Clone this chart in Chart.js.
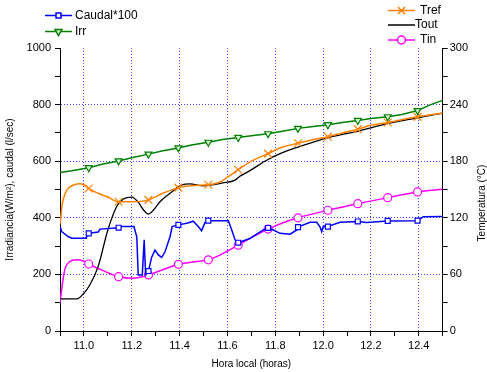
<!DOCTYPE html>
<html>
<head>
<meta charset="utf-8">
<script src="https://cdn.jsdelivr.net/npm/chart.js@4.4.0/dist/chart.umd.min.js"></script>
<style>
  body { margin: 0; background: #fff; }
  #wrap { width: 487px; height: 372px; }
</style>
</head>
<body>
<div id="wrap"><canvas id="chart" width="487" height="372"></canvas></div>
<script>
// times (hours) where the series carry a marker
const markerHours = [11.02, 11.145, 11.27, 11.395, 11.52, 11.645, 11.77, 11.895, 12.02, 12.145, 12.27, 12.395];

// Caudal*100 (left axis)
const caudalHours = [10.9, 10.907, 10.935, 10.95, 11.01, 11.015, 11.02, 11.06, 11.067, 11.145, 11.158, 11.209, 11.221, 11.227, 11.244, 11.252, 11.258, 11.27, 11.283, 11.297, 11.311, 11.325, 11.339, 11.36, 11.369, 11.395, 11.43, 11.457, 11.478, 11.492, 11.506, 11.52, 11.604, 11.618, 11.632, 11.645, 11.694, 11.75, 11.77, 11.792, 11.82, 11.862, 11.89, 11.895, 11.945, 11.973, 11.987, 11.994, 12.001, 12.02, 12.071, 12.145, 12.182, 12.27, 12.395, 12.419, 12.5];
const caudalVals = [370, 351, 333, 328, 328, 345, 345, 350, 360, 365, 369, 369, 333, 198, 198, 322, 198, 212, 260, 286, 269, 260, 280, 333, 369, 375, 381, 388, 369, 354, 383, 390, 390, 357, 322, 312, 327, 357, 364, 357, 345, 342, 357, 367, 384, 384, 368, 351, 370, 369, 384, 387, 383, 389, 390, 404, 405];

// Irr (left axis)
const irrHours = [10.9, 10.95, 11.02, 11.08, 11.145, 11.2, 11.27, 11.33, 11.395, 11.45, 11.52, 11.58, 11.645, 11.7, 11.77, 11.83, 11.895, 11.95, 12.02, 12.08, 12.145, 12.2, 12.27, 12.33, 12.395, 12.45, 12.5];
const irrVals = [560, 566, 577, 590, 601, 612, 625, 637, 647, 657, 667, 677, 684, 690, 697, 706, 716, 722, 729, 737, 744, 751, 757, 765, 779, 800, 815];

// Tref (right axis)
const trefHours = [10.9, 10.91, 10.93, 10.95, 10.98, 11.0, 11.02, 11.06, 11.1, 11.145, 11.2, 11.27, 11.33, 11.395, 11.45, 11.52, 11.57, 11.6, 11.645, 11.7, 11.77, 11.83, 11.895, 11.96, 12.02, 12.08, 12.145, 12.2, 12.27, 12.33, 12.395, 12.5];
const trefVals = [113, 135, 150, 154, 156, 155, 151, 146, 142, 137, 137, 139, 146, 152, 154, 155, 158, 163, 171, 180, 188, 195, 199, 203, 206, 210, 214, 218, 221, 224, 227, 231];

// Tout (right axis)
const toutHours = [10.9, 10.97, 11.0, 11.025, 11.059, 11.1, 11.137, 11.165, 11.2, 11.226, 11.25, 11.269, 11.29, 11.318, 11.36, 11.409, 11.443, 11.498, 11.581, 11.632, 11.652, 11.694, 11.764, 11.83, 11.896, 12.022, 12.147, 12.273, 12.395, 12.5];
const toutVals = [34, 34, 40, 49, 68, 107, 132, 140, 142, 137, 128, 124, 128, 137, 146, 155, 156, 154, 157, 160, 164, 170, 181, 189, 195, 205, 212, 220, 226, 231];

// Tin (right axis)
const tinHours = [10.9, 10.91, 10.92, 10.94, 10.97, 11.0, 11.02, 11.08, 11.145, 11.205, 11.27, 11.33, 11.395, 11.45, 11.52, 11.58, 11.645, 11.7, 11.77, 11.83, 11.895, 12.02, 12.145, 12.27, 12.395, 12.5];
const tinVals = [30, 50, 65, 73.5, 75.5, 74, 71, 64, 57.6, 56, 59.4, 65, 70.7, 73, 75.5, 82, 91, 99, 108, 114.5, 120, 128, 135, 141.3, 147.4, 150.2];

const FONT = '"Liberation Sans", Arial, sans-serif';
Chart.defaults.font.family = FONT;
Chart.defaults.font.size = 11;
Chart.defaults.color = '#000';

const gridBlue = 'rgba(40,40,255,0.9)';

function pts(xs, ys) {
    return xs.map((x, i) => ({x: x, y: ys[i]}));
}
function isMarker(x) {
    return markerHours.some(m => Math.abs(m - x) < 1e-6);
}
function markerRadius(r) {
    return ctx => (ctx.raw && isMarker(ctx.raw.x)) ? r : 0;
}

const legendItems = [
    {label: 'Caudal*100', color: '#0000ff', fill: '#fff', style: 'rect', r: 3.5, x1: 45, x2: 72, y: 15.5, tx: 75},
    {label: 'Irr', color: '#008000', fill: '#d8f0d8', style: 'triangle', rot: 180, r: 4, x1: 45, x2: 72, y: 31.5, tx: 75},
    {label: 'Tref', color: '#ff8000', fill: '#ff8000', style: 'crossRot', r: 5, x1: 388, x2: 415, y: 10.5, tx: 420},
    {label: 'Tout', color: '#000', x1: 388, x2: 415, y: 25, tx: 415},
    {label: 'Tin', color: '#ff00ff', fill: '#fff', style: 'circle', r: 4, x1: 388, x2: 415, y: 40, tx: 420}
];

const extras = {
    id: 'extras',
    afterDraw(chart) {
        const ctx = chart.ctx;
        ctx.save();
        ctx.font = '12px ' + FONT;
        ctx.textBaseline = 'middle';
        ctx.textAlign = 'left';
        legendItems.forEach(item => {
            ctx.strokeStyle = item.color;
            ctx.lineWidth = 1.5;
            ctx.beginPath();
            ctx.moveTo(item.x1, item.y);
            ctx.lineTo(item.x2, item.y);
            ctx.stroke();
            if (item.style) {
                ctx.fillStyle = item.fill;
                Chart.helpers.drawPoint(ctx, {pointStyle: item.style, radius: item.r, rotation: item.rot || 0, borderWidth: 1.2}, (item.x1 + item.x2) / 2, item.y);
            }
            ctx.fillStyle = '#000';
            ctx.fillText(item.label, item.tx, item.y);
        });
        // right axis title reads bottom to top
        ctx.translate(482, 203);
        ctx.rotate(-Math.PI / 2);
        ctx.font = '10px ' + FONT;
        ctx.textAlign = 'center';
        ctx.fillText('Temperatura (°C)', 0, 0);
        ctx.restore();
    }
};

new Chart(document.getElementById('chart'), {
    type: 'line',
    data: {
        datasets: [
            {
                label: 'Caudal*100', data: pts(caudalHours, caudalVals), yAxisID: 'y',
                borderColor: '#0000ff', backgroundColor: '#fff', borderWidth: 1.5,
                pointStyle: 'rect', pointRadius: markerRadius(3.5), pointBorderWidth: 1.2, tension: 0
            },
            {
                label: 'Irr', data: pts(irrHours, irrVals), yAxisID: 'y',
                borderColor: '#008000', backgroundColor: '#d8f0d8', borderWidth: 1.5,
                pointStyle: 'triangle', pointRotation: 180, pointRadius: markerRadius(4), pointBorderWidth: 1.2, tension: 0
            },
            {
                label: 'Tref', data: pts(trefHours, trefVals), yAxisID: 'y2',
                borderColor: '#ff8000', backgroundColor: '#ff8000', borderWidth: 1.5,
                pointStyle: 'crossRot', pointRadius: markerRadius(5.5), pointBorderWidth: 1.2,
                cubicInterpolationMode: 'monotone'
            },
            {
                label: 'Tout', data: pts(toutHours, toutVals), yAxisID: 'y2',
                borderColor: '#000', borderWidth: 1.3, pointRadius: 0,
                cubicInterpolationMode: 'monotone'
            },
            {
                label: 'Tin', data: pts(tinHours, tinVals), yAxisID: 'y2',
                borderColor: '#ff00ff', backgroundColor: '#fff', borderWidth: 1.5,
                pointStyle: 'circle', pointRadius: markerRadius(4), pointBorderWidth: 1.2,
                cubicInterpolationMode: 'monotone'
            }
        ]
    },
    options: {
        responsive: false,
        animation: false,
        layout: { padding: { top: 48, left: 0, right: 0, bottom: 0 } },
        plugins: { legend: { display: false }, tooltip: { enabled: false } },
        scales: {
            x: {
                type: 'linear', min: 10.9, max: 12.5,
                afterFit: s => { s.height = 41; },
                ticks: {
                    stepSize: 0.1, autoSkip: false, maxRotation: 0, padding: 3,
                    callback: v => (Math.round(v * 10) % 2 === 0) ? v.toFixed(1) : ''
                },
                grid: {
                    color: ctx => (ctx.tick && Math.round(ctx.tick.value * 10) % 2 === 0) ? gridBlue : 'rgba(0,0,0,0)',
                    tickColor: '#000', tickLength: 5, lineWidth: 1
                },
                border: { color: '#000', width: 1, dash: [1, 2] },
                title: { display: true, text: 'Hora local (horas)', font: { size: 10 }, padding: { top: 0, bottom: 2 } }
            },
            y: {
                position: 'left', min: 0, max: 1000,
                afterFit: s => { s.width = 60; },
                ticks: {
                    stepSize: 100, autoSkip: false, padding: 4,
                    callback: v => (v % 200 === 0) ? v : ''
                },
                grid: {
                    color: ctx => (ctx.tick && ctx.tick.value % 200 === 0 && ctx.tick.value > 0 && ctx.tick.value < 1000) ? gridBlue : 'rgba(0,0,0,0)',
                    tickColor: '#000', tickLength: 5, lineWidth: 1
                },
                border: { color: '#000', width: 1, dash: [1, 2] },
                title: { display: true, text: 'Irradiancia(W/m²), caudal (l/sec)', font: { size: 10 }, padding: { top: 4, bottom: 0 } }
            },
            y2: {
                position: 'right', min: 0, max: 300,
                afterFit: s => { s.width = 44.3; },
                ticks: {
                    stepSize: 30, autoSkip: false, padding: 2,
                    callback: v => (v % 60 === 0) ? v : ''
                },
                grid: { drawOnChartArea: false, tickColor: '#000', tickLength: 5 },
                border: { color: '#000', width: 1 }
            }
        }
    },
    plugins: [extras]
});
</script>
</body>
</html>
